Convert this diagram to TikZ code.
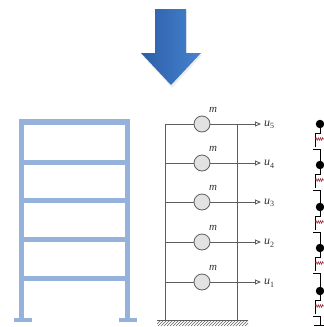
\documentclass[tikz,border=0pt]{standalone}
\usepackage{fontspec}
\setmainfont{Liberation Serif}
\usetikzlibrary{arrows.meta,decorations.pathmorphing}
\definecolor{framecol}{HTML}{94B2DA}
\definecolor{wirecol}{HTML}{5E5E5E}
\definecolor{massfill}{HTML}{E2E2E2}
\definecolor{labelcol}{HTML}{333333}
\definecolor{springcol}{HTML}{A8323C}
\definecolor{arrowdark}{HTML}{2C5EA8}
\definecolor{arrowlight}{HTML}{4683CF}
\newcommand{\dof}[1]{\textit{u}\raisebox{-2.5pt}{\fontsize{8}{8}\selectfont #1}}
\begin{document}
\begin{tikzpicture}[x=1pt,y=-1pt,
  wire/.style={draw=wirecol,line width=0.9pt},
  hatch/.style={draw=wirecol,line width=0.5pt},
  mass/.style={circle,draw=wirecol,fill=massfill,line width=0.8pt,minimum size=16pt,inner sep=0pt},
  ulbl/.style={text=labelcol,font=\fontsize{12}{12}\selectfont,inner sep=0pt,anchor=west},
  mlbl/.style={text=labelcol,font=\fontsize{11}{11}\selectfont\itshape,inner sep=0pt},
  stick/.style={draw=black,line width=0.7pt},
  lump/.style={circle,fill=black,minimum size=8.5pt,inner sep=0pt},
  spring/.style={draw=springcol,line width=0.6pt,decorate,
    decoration={zigzag,segment length=2.2pt,amplitude=1.3pt}},
  disp/.style={wire,-{Triangle[open,length=6pt,width=5pt]}}
]
\useasboundingbox (0,0) rectangle (324,327);

% big downward arrow with a soft shadow
\fill[black!10,opacity=0.7] (156,11) -- (187,11) -- (187,55) -- (202,55) -- (172,88) -- (142,55) -- (156,55) -- cycle;
\shade[left color=arrowdark,right color=arrowlight]
  (155,9) -- (186,9) -- (186,53) -- (201,53) -- (171,85) -- (141,53) -- (155,53) -- cycle;

% frame elevation
\fill[framecol] (19,119) rectangle (24,320);
\fill[framecol] (125,119) rectangle (130,320);
\fill[framecol] (19,119) rectangle (130,125);
\foreach \y in {160,198,237,276}
  \fill[framecol] (24,\y) rectangle (125,\y+4.5);
\fill[framecol] (14,318) rectangle (32,322);
\fill[framecol] (119,318) rectangle (137,322);

% lumped-mass shear model
\coordinate (baseL) at (165,320);
\coordinate (baseR) at (237,320);
\foreach \i/\y in {1/282,2/242,3/202,4/163,5/124}{
  \coordinate (L\i) at (165,\y);
  \coordinate (R\i) at (237,\y);
  \coordinate (U\i) at (261,\y);
  \node[mass] (M\i) at (202,\y) {};
  \draw[wire] (L\i) -- (M\i);
  \draw[disp] (M\i) -- (U\i);
  \node[mlbl] (m\i) at (213,\y-14) {m};
  \node[ulbl] (u\i) at (264,\y+1) {\dof{\i}};
}
\draw[wire] (L5) -- (baseL);
\draw[wire] (R5) -- (baseR);
\draw[wire] (157,320) -- (248,320);
\begin{scope}
  \clip (157,320) rectangle (248,326);
  \foreach \x in {152,155,...,248}
    \draw[hatch] (\x,326) -- (\x+6,320);
\end{scope}

% stick model with storey springs
\foreach \i/\y in {1/291,2/248,3/207,4/165,5/124}
  \node[lump] (D\i) at (320,\y) {};
\coordinate (D0) at (320,325);
\foreach \t/\b/\tn/\bn in {124/165/5/4,165/207/4/3,207/248/3/2,248/291/2/1,291/325/1/0}{
  \draw[stick] (D\tn) -- (320,\t+9) -- (315.5,\t+9) -- (315.5,\t+23);
  \draw[spring] (315.5,\t+15) -- (324,\t+15);
  \draw[stick] (313,\t+25) -- (320,\t+25) -- (D\bn);
}
\draw[stick] (314,325) -- (324,325);
\end{tikzpicture}
\end{document}
